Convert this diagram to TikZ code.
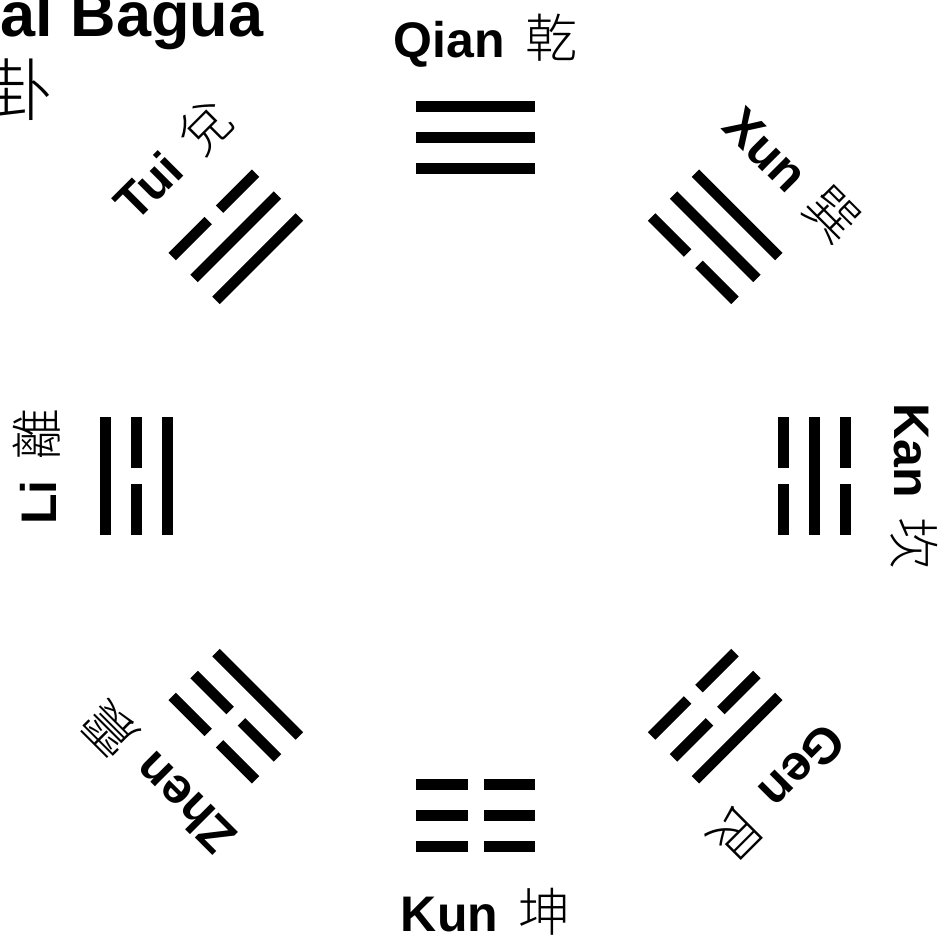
\documentclass[tikz,border=0pt]{standalone}
\usepackage{fontspec}
\setmainfont{Liberation Sans}
\newfontfamily\cjk{Noto Sans CJK TC Light}
\usetikzlibrary{calc}

\begin{document}
\begin{tikzpicture}[x=1pt, y=1pt,
					yao/.style={line width=10.5pt},
					lbl/.style={inner sep=0pt, text height=36pt, text depth=0pt, font=\fontsize{50pt}{60pt}\selectfont\bfseries},
					ttl/.style={inner sep=0pt, font=\fontsize{63pt}{70pt}\selectfont\bfseries}]
	\useasboundingbox (-475.5,-467.5) rectangle (469.5,476.5);
	\clip (-475.5,-467.5) rectangle (469.5,476.5);
	
	% title, cut by the frame
	\node[ttl, anchor=base east] (title) at (-212,439.5) {Primordial Bagua};
	\node[inner sep=0pt, anchor=east, font=\cjk\fontsize{68pt}{70pt}\selectfont] (titlehan) at (-421.5,387) {先天八卦};
	
	% trigrams: angle / inner, middle, outer line (1 = solid, 0 = broken)
	\foreach \a/\yi/\ym/\yo in {90/1/1/1, 135/1/1/0, 45/0/1/1, 180/1/0/1, 0/0/1/0, 225/1/0/0, 315/0/0/1, 270/0/0/0} {
		\begin{scope}[shift={(\a:339)}, rotate=\a-90]
			\foreach \y/\v in {-31/\yi, 0/\ym, 31/\yo} {
				\ifnum\v=1
					\draw[yao] (-59,\y) -- (59,\y);
				\else
					\draw[yao] (-59,\y) -- (-8,\y) (8,\y) -- (59,\y);
				\fi
			}
		\end{scope}
	}
	
	% names
	\foreach \a/\rot/\name/\hz/\id in {90/0/Qian/乾/qian, 135/45/Tui/兌/tui, 45/-45/Xun/巽/xun, 180/90/Li/離/li, 0/-90/Kan/坎/kan, 225/135/Zhen/震/zhen, 315/225/Gen/艮/gen, 270/0/Kun/坤/kun}
		\node[lbl, rotate=\rot] (\id) at ($(\a:437)+(\rot:10)$) {\name\hspace{0.4em}{\cjk\mdseries\fontsize{52pt}{60pt}\selectfont\hz}};
\end{tikzpicture}
\end{document}
